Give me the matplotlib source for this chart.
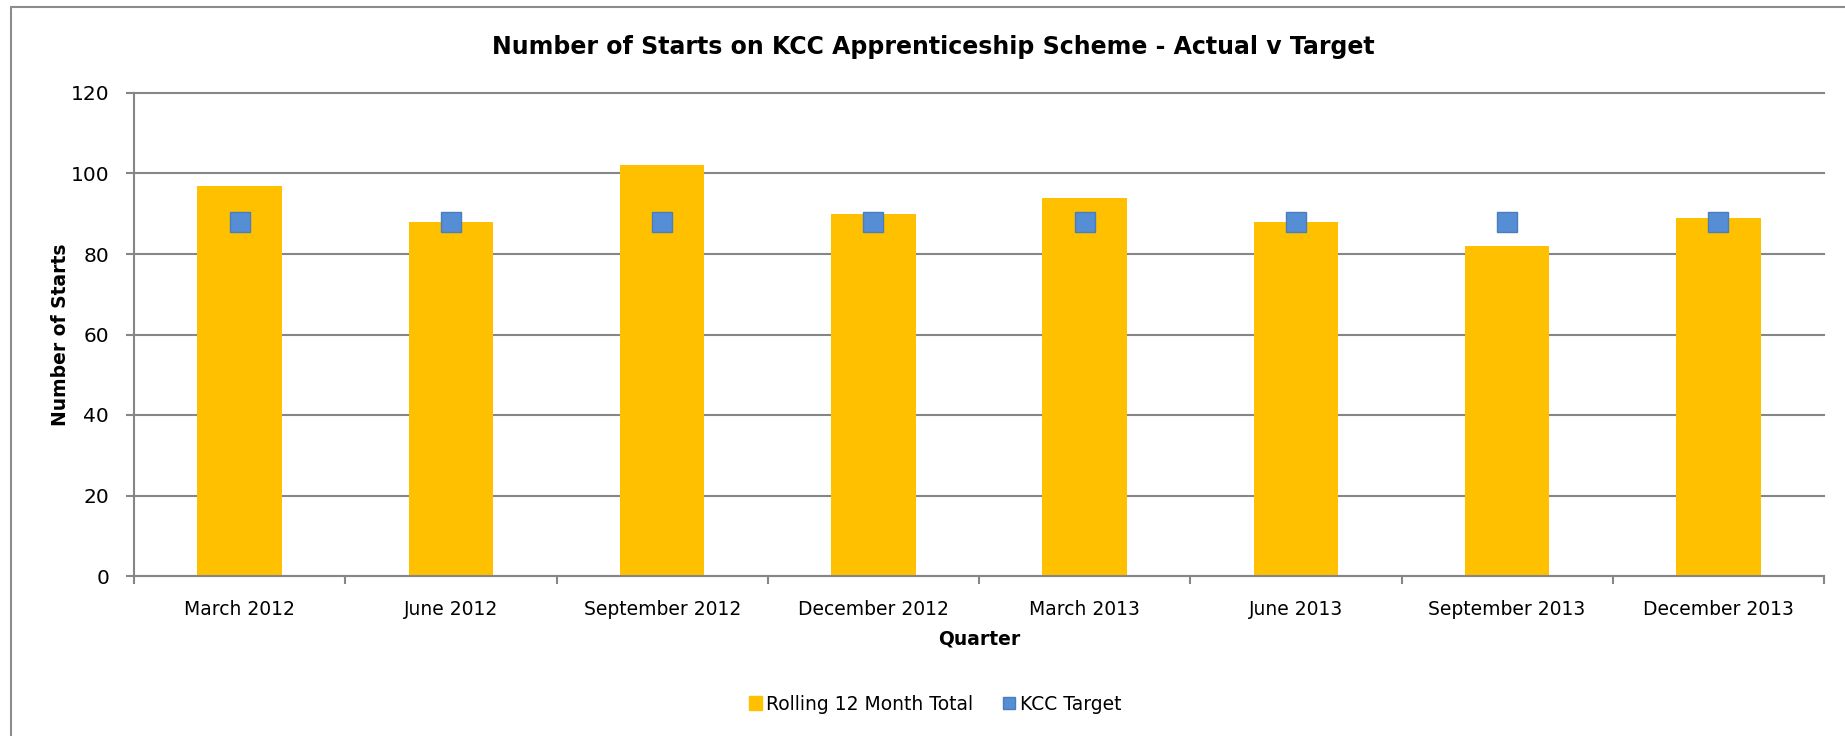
import matplotlib

matplotlib.use("Agg")
import matplotlib.pyplot as plt
from matplotlib.patches import Patch, Rectangle
from matplotlib.lines import Line2D

quarters = ["March 2012", "June 2012", "September 2012", "December 2012",
            "March 2013", "June 2013", "September 2013", "December 2013"]
rolling_total = [97, 88, 102, 90, 94, 88, 82, 89]
kcc_target = [88, 88, 88, 88, 88, 88, 88, 88]
y_ticks = [0, 20, 40, 60, 80, 100, 120]

BAR = "#FFC000"
MARK = "#558ED5"
MARK_EDGE = "#4A7EBB"
GRID = "#868686"

W, H = 1845, 736
fig = plt.figure(figsize=(W / 100, H / 100), dpi=100)
fig.patches.append(Rectangle((11 / W, -0.1), 1.2, 1 - 7 / H + 0.1, transform=fig.transFigure,
                             fill=False, ec="#8C8C8C", lw=1.5))

ax = fig.add_axes([134 / W, 1 - 576 / H, (1824 - 134) / W, (576 - 93) / H])
x = list(range(len(quarters)))
ax.bar(x, rolling_total, width=0.4, color=BAR, zorder=2)
ax.plot(x, kcc_target, "s", ms=14.4, mfc=MARK, mec=MARK_EDGE, mew=1, zorder=3)

ax.set_xlim(-0.5, len(quarters) - 0.5)
ax.set_ylim(0, 120)
ax.set_yticks(y_ticks)
ax.set_yticklabels([str(v) for v in y_ticks], fontsize=14.5)
ax.yaxis.grid(True, color=GRID, lw=1.5, zorder=0)
ax.set_axisbelow(True)
for gl in ax.get_ygridlines():
    gl.set_clip_on(False)

ax.set_xticks([i + 0.5 for i in range(-1, len(quarters))])
ax.set_xticklabels([])
ax.set_xticks(x, minor=True)
ax.set_xticklabels(quarters, minor=True, fontsize=13.5)
ax.tick_params(axis="x", which="minor", length=0, pad=17)
ax.tick_params(axis="x", which="major", length=6, width=1.5, color=GRID, direction="out")
ax.tick_params(axis="y", length=6, width=1.5, color=GRID, direction="out", pad=12)

for s in ["top", "right"]:
    ax.spines[s].set_visible(False)
for s in ["left", "bottom"]:
    ax.spines[s].set_color(GRID)
    ax.spines[s].set_linewidth(1.5)

fig.text(933 / W, 1 - 54 / H, "Number of Starts on KCC Apprenticeship Scheme - Actual v Target",
         ha="center", va="baseline", fontsize=17, fontweight="bold")
fig.text(61 / W, 1 - 335 / H, "Number of Starts", rotation=90, ha="center", va="center",
         fontsize=13.5, fontweight="bold")
fig.text(979 / W, 1 - 639 / H, "Quarter", ha="center", va="center",
         fontsize=13.5, fontweight="bold")

handles = [Patch(color=BAR, label="Rolling 12 Month Total"),
           Line2D([], [], ls="none", marker="s", ms=9, mfc=MARK, mec=MARK_EDGE,
                  label="KCC Target")]
fig.legend(handles=handles, loc="center", bbox_to_anchor=(935 / W, 1 - 704 / H), ncol=2,
           frameon=False, prop={"size": 13.5}, handlelength=0.7,
           handleheight=0.7, handletextpad=0.2, columnspacing=1.6)

fig.savefig("out.png", dpi=100)
